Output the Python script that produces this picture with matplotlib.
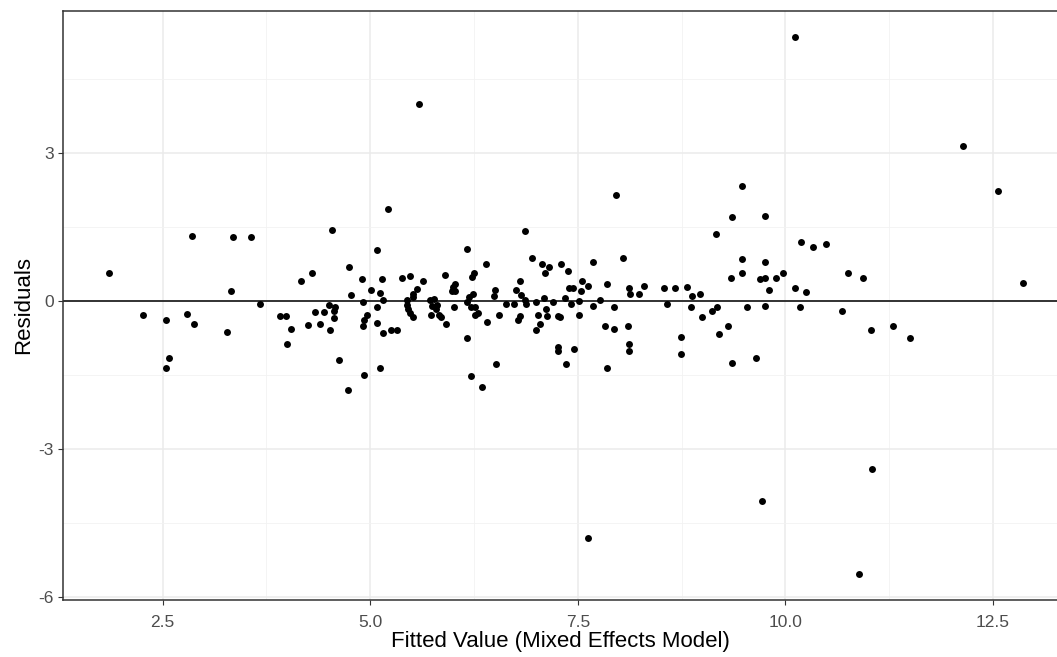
import numpy as np
import matplotlib.pyplot as plt
from matplotlib.ticker import MultipleLocator

plt.rcParams['font.family'] = ['Liberation Sans', 'DejaVu Sans']
plt.rcParams['axes.unicode_minus'] = False

# 적합값 / 잔차
fitted = [
    1.85, 2.85, 3.35, 3.33, 2.27, 2.54, 2.79, 2.88, 3.275, 2.58, 2.54,
    3.56, 3.67, 4.545, 5.21, 5.08, 4.74, 4.30, 4.17, 4.90, 5.14, 5.01,
    5.12, 4.77, 5.15, 4.91, 5.08, 4.50, 4.58, 4.56, 4.45, 4.34, 4.56,
    3.91, 3.99, 4.05, 4.25, 4.39, 4.52, 4.96, 4.93, 4.91, 5.08, 5.15,
    5.25, 5.32, 4.00, 4.63, 5.12, 4.93, 4.73,
    6.86, 6.17, 6.39, 6.95, 7.07, 7.15, 7.11, 5.38, 5.48, 5.64, 5.90,
    6.25, 6.23, 6.02, 6.00, 5.98, 6.02, 5.56, 5.52, 5.52, 5.44, 5.44,
    5.45, 5.48, 5.52, 5.72, 5.77, 5.74, 5.80, 5.79, 5.73, 5.83, 5.85,
    5.91, 6.01, 6.17, 6.19, 6.16, 6.21, 6.26, 6.30, 6.26, 6.24, 6.41,
    6.50, 6.49, 6.55, 6.64, 6.73, 6.80, 6.76, 6.82, 6.86, 6.88, 6.80,
    6.78, 7.00, 7.09, 7.02, 7.12, 7.13, 7.20, 7.04, 7.00, 7.26, 7.26,
    7.26, 6.52, 6.22, 6.35,
    7.96, 9.17, 8.05, 7.68, 7.30, 7.38, 7.55, 7.62, 7.39, 7.44, 7.54,
    7.85, 8.12, 8.13, 8.24, 8.30, 8.54, 8.67, 8.81, 8.87, 8.97, 7.34,
    7.42, 7.52, 7.68, 7.77, 7.94, 8.57, 8.86, 7.29, 7.51, 9.00, 9.11,
    9.18, 7.83, 7.94, 8.11, 7.45, 7.36, 7.85, 8.12, 8.12, 8.74, 8.74,
    9.20,
    9.48, 9.36, 9.75, 10.19, 10.33, 10.49, 9.48, 9.76, 9.34, 9.48, 9.69,
    9.76, 9.89, 9.97, 9.80, 10.12, 10.25, 10.75, 10.94, 9.54, 9.76,
    10.17, 10.68, 11.03, 9.31, 9.36, 9.65,
    12.56, 12.86, 11.29, 11.50,
    5.59, 10.11, 12.14, 11.04, 9.72, 7.62, 10.88,
]
residuals = [
    0.57, 1.32, 1.30, 0.20, -0.275, -0.37, -0.25, -0.46, -0.63, -1.16, -1.35,
    1.30, -0.06, 1.45, 1.87, 1.05, 0.70, 0.57, 0.42, 0.45, 0.45, 0.23,
    0.165, 0.13, 0.02, -0.02, -0.12, -0.08, -0.12, -0.20, -0.21, -0.21, -0.34,
    -0.30, -0.30, -0.56, -0.49, -0.47, -0.59, -0.27, -0.38, -0.51, -0.44, -0.65,
    -0.59, -0.59, -0.87, -1.19, -1.35, -1.50, -1.79,
    1.42, 1.07, 0.76, 0.88, 0.76, 0.69, 0.57, 0.48, 0.51, 0.42, 0.54,
    0.57, 0.50, 0.36, 0.29, 0.20, 0.20, 0.25, 0.15, 0.08, 0.02, -0.07,
    -0.15, -0.23, -0.31, 0.02, 0.04, -0.09, -0.07, -0.15, -0.27, -0.27, -0.31,
    -0.46, -0.12, -0.74, 0.08, -0.02, -0.12, -0.12, -0.23, -0.27, 0.15, -0.43,
    0.23, 0.11, -0.27, -0.05, -0.05, 0.42, 0.23, 0.12, 0.02, -0.05, -0.29,
    -0.38, -0.02, 0.07, -0.27, -0.16, -0.29, -0.02, -0.46, -0.59, -0.29, -0.93,
    -1.01, -1.28, -1.51, -1.73,
    2.15, 1.36, 0.88, 0.80, 0.76, 0.61, 0.42, 0.31, 0.26, 0.26, 0.20,
    0.36, 0.26, 0.14, 0.14, 0.32, 0.26, 0.26, 0.29, 0.11, 0.14, 0.06,
    -0.06, 0.00, -0.09, 0.02, -0.12, -0.06, -0.12, -0.31, -0.27, -0.31, -0.19,
    -0.12, -0.50, -0.56, -0.50, -0.97, -1.28, -1.35, -0.86, -1.01, -0.72, -1.07,
    -0.67,
    2.33, 1.70, 1.74, 1.20, 1.11, 1.17, 0.86, 0.80, 0.48, 0.57, 0.45,
    0.48, 0.48, 0.57, 0.23, 0.26, 0.19, 0.57, 0.48, -0.12, -0.09,
    -0.12, -0.19, -0.59, -0.50, -1.25, -1.16,
    2.24, 0.38, -0.50, -0.75,
    4.00, 5.36, 3.15, -3.40, -4.05, -4.81, -5.54,
]

x_ticks = [2.5, 5.0, 7.5, 10.0, 12.5]
y_ticks = [-6, -3, 0, 3]

fig = plt.figure(figsize=(10.57, 6.57), dpi=100)
ax = fig.add_axes([0.0595, 0.0868, 0.9405, 0.8965])

ax.scatter(fitted, residuals, s=25, color='black', linewidths=0, zorder=3)
ax.axhline(0, color='black', linewidth=1.1, zorder=2)

ax.set_xlim(1.30, 13.27)
ax.set_ylim(-6.06, 5.89)
ax.set_xticks(x_ticks)
ax.set_xticklabels([f"{v:.1f}" for v in x_ticks])
ax.set_yticks(y_ticks)
ax.set_yticklabels([str(v) for v in y_ticks])
ax.xaxis.set_minor_locator(MultipleLocator(1.25))
ax.yaxis.set_minor_locator(MultipleLocator(1.5))

ax.grid(which='major', color='#EBEBEB', linewidth=1.1, zorder=0)
ax.grid(which='minor', color='#F2F2F2', linewidth=0.6, zorder=0)
ax.set_axisbelow(True)

ax.tick_params(which='major', length=3.5, width=0.8, color='#333333',
               labelcolor='#4D4D4D', labelsize=12.5)
ax.tick_params(axis='x', which='major', pad=7)
ax.tick_params(axis='y', which='major', pad=3)
ax.tick_params(which='minor', length=0)

for side in ['top', 'left', 'bottom']:
    ax.spines[side].set_color('#333333')
    ax.spines[side].set_linewidth(1.1)
ax.spines['right'].set_visible(False)

ax.set_xlabel("Fitted Value (Mixed Effects Model)", fontsize=16, labelpad=1)
ax.set_ylabel("Residuals", fontsize=16, labelpad=3)

fig.savefig("out.png", dpi=100)
